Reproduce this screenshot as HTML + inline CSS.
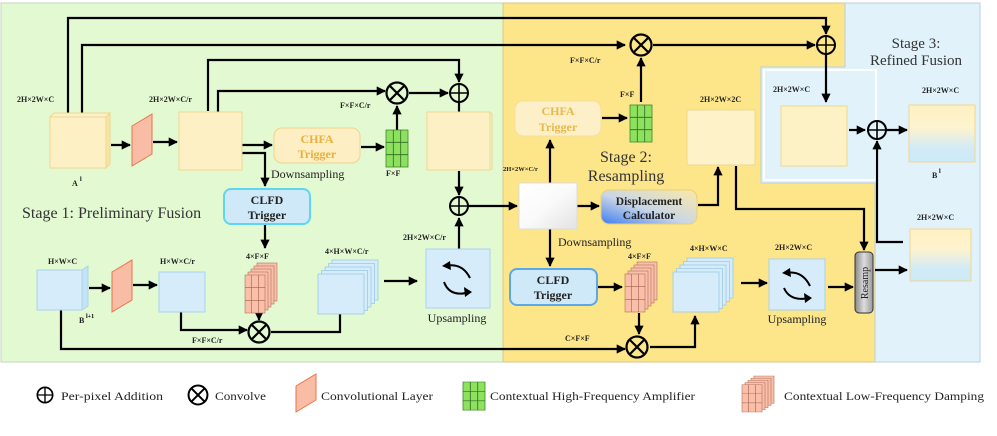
<!DOCTYPE html>
<html><head><meta charset="utf-8"><style>
html,body{margin:0;padding:0;background:#fff;}
svg{display:block;font-family:"Liberation Serif",serif;}
.l{font-size:8px;font-weight:bold;fill:#222;}
.m{font-size:12px;fill:#222;}
</style></head><body>
<svg width="997" height="436" viewBox="0 0 997 436" xmlns="http://www.w3.org/2000/svg">
<defs>
<marker id="a" viewBox="0 0 10 10" refX="9" refY="5" markerWidth="4.2" markerHeight="4.2" orient="auto"><path d="M0,0L10,5L0,10z" fill="#000"/></marker>
<linearGradient id="wg" x1="0" y1="0" x2="1" y2="1"><stop offset="0" stop-color="#fff"/><stop offset="0.5" stop-color="#fafafa"/><stop offset="1" stop-color="#e2e2e2"/></linearGradient>
<linearGradient id="dg" x1="0" y1="1" x2="1" y2="0"><stop offset="0" stop-color="#3d7cf0"/><stop offset="0.45" stop-color="#c9d6e6"/><stop offset="1" stop-color="#fbe9a6"/></linearGradient>
<linearGradient id="yb" x1="0" y1="0" x2="0" y2="1"><stop offset="0" stop-color="#fdf1c2"/><stop offset="0.4" stop-color="#fdf3cf"/><stop offset="0.75" stop-color="#d2ebf6"/><stop offset="1" stop-color="#cde9f7"/></linearGradient>
<linearGradient id="rg" x1="0" y1="0" x2="1" y2="0"><stop offset="0" stop-color="#888"/><stop offset="0.5" stop-color="#ddd"/><stop offset="1" stop-color="#999"/></linearGradient>
<g id="plus"><circle r="9" fill="none" stroke="#000" stroke-width="2"/><path d="M-9,0H9M0,-9V9" stroke="#000" stroke-width="1.6"/></g>
<g id="conv"><circle r="10.5" fill="none" stroke="#000" stroke-width="2.2"/><path d="M-7.4,-7.4L7.4,7.4M7.4,-7.4L-7.4,7.4" stroke="#000" stroke-width="2.2"/></g>
<g id="grid"><rect x="0" y="0" width="22" height="37" fill="#8de15e" stroke="#3a8a2a" stroke-width="0.8"/><path d="M7.3,0V37M14.7,0V37M0,12.3H22M0,24.7H22" stroke="#2f6b22" stroke-width="0.8"/></g>
<g id="pink"><g fill="#f9bfa8" stroke="#b07060" stroke-width="0.6">
<rect x="12" y="0" width="20" height="38"/><rect x="9" y="3" width="20" height="38"/><rect x="6" y="6" width="20" height="38"/><rect x="3" y="9" width="20" height="38"/><rect x="0" y="12" width="20" height="38"/></g>
<path d="M6.7,12V50M13.3,12V50M0,24.7H20M0,37.3H20" stroke="#a06050" stroke-width="0.6"/></g>
<g id="cards" fill="#d6ecfa" stroke="#9ccbe8" stroke-width="0.8"><rect x="14" y="0" width="46" height="40"/><rect x="10.5" y="3.5" width="46" height="40"/><rect x="7" y="7" width="46" height="40"/><rect x="3.5" y="10.5" width="46" height="40"/><rect x="0" y="14" width="46" height="40"/></g>
</defs>

<rect x="0" y="0" width="997" height="436" fill="#fff"/>
<rect x="1" y="3" width="502" height="359" fill="#e3f9d2" stroke="#c6d6bc" stroke-width="1"/>
<path d="M503,3H845V67H761V183H875V362H503Z" fill="#fde58a" stroke="#d8c688" stroke-width="1"/>
<path d="M845,3H980V362H875V183H761V67H845Z" fill="#e1f2fb" stroke="#b9cfdc" stroke-width="1"/>
<path d="M764,70H876V180H764Z" fill="none" stroke="#fff" stroke-width="2"/>

<text x="22" y="218" font-size="16" fill="#333">Stage 1: Preliminary Fusion</text>
<text x="626" y="162" font-size="16" fill="#333" text-anchor="middle">Stage 2:</text>
<text x="626" y="181" font-size="16" fill="#333" text-anchor="middle">Resampling</text>
<text x="916" y="48" font-size="15" fill="#333" text-anchor="middle">Stage 3:</text>
<text x="916" y="65" font-size="15" fill="#333" text-anchor="middle">Refined Fusion</text>

<g fill="none" stroke="#000" stroke-width="2.2">
<path d="M68,113V18H826V34" marker-end="url(#a)"/>
<path d="M82,130V45H625" marker-end="url(#a)"/>
<path d="M208,111V60H459V82" marker-end="url(#a)"/>
<path d="M218,137V91H385" marker-end="url(#a)"/>
<path d="M409,93H448" marker-end="url(#a)"/>
<path d="M397,130V106" marker-end="url(#a)"/>
<path d="M459,103V127" marker-end="url(#a)"/>
<path d="M459,171V195" marker-end="url(#a)"/>
<path d="M468,206H517" marker-end="url(#a)"/>
<path d="M111,145H130" marker-end="url(#a)"/>
<path d="M153,142H177" marker-end="url(#a)"/>
<path d="M240,145H272" marker-end="url(#a)"/>
<path d="M240,153H265V186" marker-end="url(#a)"/>
<path d="M361,147H384" marker-end="url(#a)"/>
<path d="M265,224V248" marker-end="url(#a)"/>
<path d="M89,288H110" marker-end="url(#a)"/>
<path d="M133,285H157" marker-end="url(#a)"/>
<path d="M181,303V330H247" marker-end="url(#a)"/>
<path d="M259,314V320" marker-end="url(#a)"/>
<path d="M271,332H340V303" marker-end="url(#a)"/>
<path d="M384,281H417" marker-end="url(#a)"/>
<path d="M459,249V218" marker-end="url(#a)"/>
<path d="M61,305V349H625" marker-end="url(#a)"/>
<path d="M550,183V140" marker-end="url(#a)"/>
<path d="M602,118H627" marker-end="url(#a)"/>
<path d="M641,102V58" marker-end="url(#a)"/>
<path d="M653,45H815" marker-end="url(#a)"/>
<path d="M577,206H599" marker-end="url(#a)"/>
<path d="M698,205H718V167" marker-end="url(#a)"/>
<path d="M736,166V209H864V250" marker-end="url(#a)"/>
<path d="M550,229V266" marker-end="url(#a)"/>
<path d="M598,287H622" marker-end="url(#a)"/>
<path d="M639,313V334" marker-end="url(#a)"/>
<path d="M650,347H695V316" marker-end="url(#a)"/>
<path d="M741,283H767" marker-end="url(#a)"/>
<path d="M828,287H853" marker-end="url(#a)"/>
<path d="M826,54V102" marker-end="url(#a)"/>
<path d="M849,130H865" marker-end="url(#a)"/>
<path d="M887,130H907" marker-end="url(#a)"/>
<path d="M903,242H877V141" marker-end="url(#a)"/>
<path d="M875,270H907" marker-end="url(#a)"/>
</g>

<use href="#conv" x="397" y="93"/><use href="#plus" x="459" y="93"/><use href="#plus" x="459" y="206"/>
<use href="#conv" x="259" y="332"/>
<use href="#conv" x="641" y="45"/><use href="#plus" x="826" y="45"/><use href="#conv" x="637" y="347"/>
<use href="#plus" x="877" y="130"/>

<g stroke="#f0d890" stroke-width="1">
<path d="M50,117L54,113H110L106,117Z" fill="#fdf0c8"/><path d="M106,117L110,113V164L106,168Z" fill="#f7e4a6"/><rect x="50" y="117" width="56" height="51" fill="#fdf0c4"/>
<rect x="179" y="112" width="63" height="58" fill="#fdf0c4"/>
<rect x="427" y="112" width="63" height="58" fill="#fdf0c4"/><path d="M490,112L492,114V170" fill="none"/>
</g>
<path d="M132,126L152,114V154L132,166Z" fill="#f9bca4" stroke="#e8754a" stroke-width="1"/>
<path d="M112,272L132,260V300L112,312Z" fill="#f9bca4" stroke="#e8754a" stroke-width="1"/>
<rect x="274" y="128" width="86" height="35" rx="8" fill="#fdeec4" stroke="#f0d48c"/>
<text x="317" y="143" font-size="12" font-weight="bold" fill="#e9b03c" text-anchor="middle">CHFA</text>
<text x="317" y="158" font-size="12" font-weight="bold" fill="#e9b03c" text-anchor="middle">Trigger</text>
<use href="#grid" x="386" y="130"/>
<rect x="224" y="189" width="86" height="35" rx="7" fill="#cfe9f8" stroke="#5fd6f0" stroke-width="2"/>
<text x="267" y="204" font-size="12" font-weight="bold" fill="#222" text-anchor="middle">CLFD</text>
<text x="267" y="219" font-size="12" font-weight="bold" fill="#222" text-anchor="middle">Trigger</text>
<text x="271" y="178" class="m">Downsampling</text>
<rect x="37" y="270" width="45" height="40" fill="#d6ecfa" stroke="#a8d3ec"/><path d="M82,270L88,266V306L82,310Z" fill="#c5e3f5" stroke="#a8d3ec"/>
<rect x="159" y="272" width="46" height="40" fill="#d6ecfa" stroke="#a8d3ec"/>
<use href="#pink" x="245" y="263"/>
<use href="#cards" x="318" y="260"/>
<rect x="426" y="249" width="64" height="59" fill="#d6ecfa" stroke="#a8d3ec"/>
<g fill="none" stroke="#000" stroke-width="2"><path d="M445,266Q462,262 470,278" /><path d="M444,282Q450,298 470,292"/></g>
<path d="M442,266L450,261L451,270Z M472,292L464,287L465,297Z" fill="#000"/>
<text x="457" y="322" class="m" text-anchor="middle">Upsampling</text>

<rect x="519" y="183" width="58" height="46" fill="url(#wg)" stroke="#ddd"/>
<rect x="515" y="101" width="86" height="35" rx="8" fill="#fdf0c8" stroke="#f5df9c"/>
<text x="558" y="115" font-size="12" font-weight="bold" fill="#e8b84c" text-anchor="middle">CHFA</text>
<text x="558" y="131" font-size="12" font-weight="bold" fill="#e8b84c" text-anchor="middle">Trigger</text>
<use href="#grid" x="630" y="105"/>
<rect x="601" y="190" width="96" height="34" rx="8" fill="url(#dg)" stroke="#e8cf7a"/>
<text x="649" y="205" font-size="11.5" font-weight="bold" fill="#222" text-anchor="middle">Displacement</text>
<text x="649" y="219" font-size="11.5" font-weight="bold" fill="#222" text-anchor="middle">Calculator</text>
<rect x="687" y="110" width="68" height="55" fill="#fdf2c8" stroke="#f0d890"/>
<rect x="510" y="269" width="87" height="36" rx="7" fill="#cfe9f8" stroke="#5aa8e8" stroke-width="2"/>
<text x="553" y="284" font-size="12" font-weight="bold" fill="#222" text-anchor="middle">CLFD</text>
<text x="553" y="299" font-size="12" font-weight="bold" fill="#222" text-anchor="middle">Trigger</text>
<text x="558" y="246" class="m">Downsampling</text>
<use href="#pink" x="625" y="262"/>
<use href="#cards" x="673" y="258"/>
<rect x="769" y="259" width="56" height="51" fill="#d6ecfa" stroke="#a8d3ec"/>
<g fill="none" stroke="#000" stroke-width="2"><path d="M786,273Q802,270 810,286"/><path d="M784,288Q790,302 810,298"/></g>
<path d="M782,273L790,268L791,277Z M812,298L804,293L805,303Z" fill="#000"/>
<text x="797" y="323" class="m" text-anchor="middle">Upsampling</text>
<rect x="855" y="252" width="18" height="61" rx="4" fill="url(#rg)" stroke="#333"/>
<text transform="translate(868,283) rotate(-90)" font-size="10" fill="#222" text-anchor="middle">Resamp</text>

<rect x="781" y="106" width="66" height="60" fill="#fdf1c6" stroke="#f0d890"/>
<rect x="909" y="105" width="66" height="57" fill="url(#yb)" stroke="#f0d890"/>
<rect x="910" y="229" width="61" height="52" fill="url(#yb)" stroke="#f0d890"/>

<text x="17" y="102" class="l">2H×2W×C</text>
<text x="72" y="186" class="l">A</text><text x="80" y="181" font-size="6" font-weight="bold">l</text>
<text x="149" y="102" class="l">2H×2W×C/r</text>
<text x="340" y="108" class="l">F×F×C/r</text>
<text x="386" y="176" class="l">F×F</text>
<text x="48" y="264" class="l">H×W×C</text>
<text x="79" y="323" class="l">B</text><text x="86" y="318" font-size="6" font-weight="bold">l+1</text>
<text x="160" y="264" class="l">H×W×C/r</text>
<text x="246" y="259" class="l">4×F×F</text>
<text x="192" y="343" class="l">F×F×C/r</text>
<text x="325" y="254" class="l">4×H×W×C/r</text>
<text x="403" y="240" class="l">2H×2W×C/r</text>
<text x="503" y="171" font-size="6.5" font-weight="bold" fill="#222">2H×2W×C/r</text>
<text x="570" y="63" class="l">F×F×C/r</text>
<text x="620" y="97" class="l">F×F</text>
<text x="700" y="102" class="l">2H×2W×2C</text>
<text x="628" y="259" class="l">4×F×F</text>
<text x="690" y="251" class="l">4×H×W×C</text>
<text x="775" y="250" class="l">2H×2W×C</text>
<text x="565" y="341" class="l">C×F×F</text>
<text x="773" y="92" class="l">2H×2W×C</text>
<text x="922" y="93" class="l">2H×2W×C</text>
<text x="932" y="178" class="l">B</text><text x="939" y="173" font-size="6" font-weight="bold">l</text>
<text x="917" y="220" class="l">2H×2W×C</text>

<g transform="translate(45,395) scale(0.85)"><use href="#plus"/></g>
<text x="61" y="400" font-size="12" fill="#222" textLength="102" lengthAdjust="spacingAndGlyphs">Per-pixel Addition</text>
<g transform="translate(198,395) scale(0.9)"><use href="#conv"/></g>
<text x="215" y="400" font-size="12" fill="#222" textLength="51" lengthAdjust="spacingAndGlyphs">Convolve</text>
<path d="M296,386L316,374V400L296,412Z" fill="#f9bca4" stroke="#e8754a"/>
<text x="321" y="400" font-size="12" fill="#222" textLength="112" lengthAdjust="spacingAndGlyphs">Convolutional Layer</text>
<g transform="translate(463,382) scale(1,0.76)"><use href="#grid"/></g>
<text x="490" y="400" font-size="12" fill="#222" textLength="205" lengthAdjust="spacingAndGlyphs">Contextual High-Frequency Amplifier</text>
<g transform="translate(742,376) scale(1,0.72)"><use href="#pink"/></g>
<text x="784" y="400" font-size="12" fill="#222" textLength="200" lengthAdjust="spacingAndGlyphs">Contextual Low-Frequency Damping</text>
</svg>
</body></html>
